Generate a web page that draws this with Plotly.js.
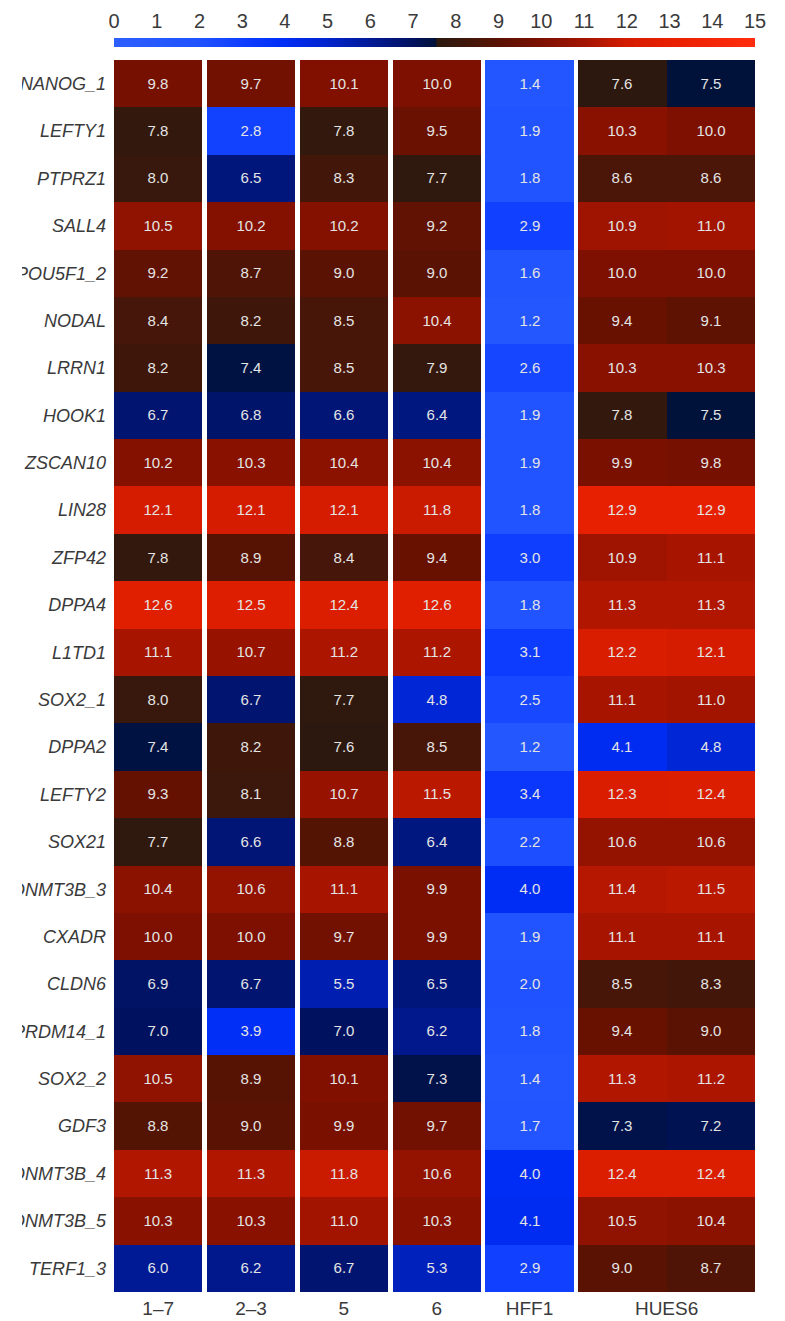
<!DOCTYPE html>
<html>
<head>
<meta charset="utf-8">
<script src="https://cdn.plot.ly/plotly-3.0.1.min.js"></script>
<style>
  html, body { margin: 0; padding: 0; background: #ffffff; }
  #wrap { position: absolute; left: 0; top: 0; width: 785px; height: 1321px; overflow: hidden; background: #fff; }
  #chart { position: absolute; left: 22px; top: 0; width: 763px; height: 1321px; overflow: hidden; }
</style>
</head>
<body>
<div id="wrap"><div id="chart"></div></div>
<script>
// Gene probes, top to bottom
const genes = ["NANOG_1", "LEFTY1", "PTPRZ1", "SALL4", "POU5F1_2", "NODAL", "LRRN1", "HOOK1",
  "ZSCAN10", "LIN28", "ZFP42", "DPPA4", "L1TD1", "SOX2_1", "DPPA2", "LEFTY2", "SOX21",
  "DNMT3B_3", "CXADR", "CLDN6", "PRDM14_1", "SOX2_2", "GDF3", "DNMT3B_4", "DNMT3B_5", "TERF1_3"];

// Sample groups and their tick labels
const groupLabels = ["1\u20137", "2\u20133", "5", "6", "HFF1", "HUES6"];

// Log2 expression per sample column
const s1_7  = [9.8, 7.8, 8.0, 10.5, 9.2, 8.4, 8.2, 6.7, 10.2, 12.1, 7.8, 12.6, 11.1, 8.0, 7.4, 9.3, 7.7, 10.4, 10.0, 6.9, 7.0, 10.5, 8.8, 11.3, 10.3, 6.0];
const s2_3  = [9.7, 2.8, 6.5, 10.2, 8.7, 8.2, 7.4, 6.8, 10.3, 12.1, 8.9, 12.5, 10.7, 6.7, 8.2, 8.1, 6.6, 10.6, 10.0, 6.7, 3.9, 8.9, 9.0, 11.3, 10.3, 6.2];
const s5    = [10.1, 7.8, 8.3, 10.2, 9.0, 8.5, 8.5, 6.6, 10.4, 12.1, 8.4, 12.4, 11.2, 7.7, 7.6, 10.7, 8.8, 11.1, 9.7, 5.5, 7.0, 10.1, 9.9, 11.8, 11.0, 6.7];
const s6    = [10.0, 9.5, 7.7, 9.2, 9.0, 10.4, 7.9, 6.4, 10.4, 11.8, 9.4, 12.6, 11.2, 4.8, 8.5, 11.5, 6.4, 9.9, 9.9, 6.5, 6.2, 7.3, 9.7, 10.6, 10.3, 5.3];
const hff1  = [1.4, 1.9, 1.8, 2.9, 1.6, 1.2, 2.6, 1.9, 1.9, 1.8, 3.0, 1.8, 3.1, 2.5, 1.2, 3.4, 2.2, 4.0, 1.9, 2.0, 1.8, 1.4, 1.7, 4.0, 4.1, 2.9];
const hues6a = [7.6, 10.3, 8.6, 10.9, 10.0, 9.4, 10.3, 7.8, 9.9, 12.9, 10.9, 11.3, 12.2, 11.1, 4.1, 12.3, 10.6, 11.4, 11.1, 8.5, 9.4, 11.3, 7.3, 12.4, 10.5, 9.0];
const hues6b = [7.5, 10.0, 8.6, 11.0, 10.0, 9.1, 10.3, 7.5, 9.8, 12.9, 11.1, 11.3, 12.1, 11.0, 4.8, 12.4, 10.6, 11.5, 11.1, 8.3, 9.0, 11.2, 7.2, 12.4, 10.4, 8.7];

// Columns grouped by sample; groups are separated by a thin white gap
const groups = [[s1_7], [s2_3], [s5], [s6], [hff1], [hues6a, hues6b]];

const zMin = 0, zMax = 15;
const tickValuesBar = [0, 1, 2, 3, 4, 5, 6, 7, 8, 9, 10, 11, 12, 13, 14, 15];

// Blue below ~7.5, dark brown to red above
const colorscale = [
  [0.000, "rgb(45,95,255)"],
  [0.133, "rgb(32,82,255)"],
  [0.200, "rgb(16,62,255)"],
  [0.267, "rgb(0,45,245)"],
  [0.333, "rgb(0,36,205)"],
  [0.400, "rgb(0,26,150)"],
  [0.467, "rgb(0,18,95)"],
  [0.503, "rgb(0,18,55)"],
  [0.5035, "rgb(42,24,15)"],
  [0.533, "rgb(56,24,12)"],
  [0.567, "rgb(72,22,8)"],
  [0.600, "rgb(90,18,2)"],
  [0.667, "rgb(125,16,0)"],
  [0.733, "rgb(162,20,0)"],
  [0.800, "rgb(212,28,0)"],
  [0.867, "rgb(232,32,0)"],
  [1.000, "rgb(255,45,15)"]
];

// Build bin edges, including narrow empty columns between groups
const colW = 1, gapW = 0.05;
const edges = [0];
const columns = [];
const tickPos = [];
groups.forEach((g, gi) => {
  if (gi > 0) {
    edges.push(edges[edges.length - 1] + gapW);
    columns.push(null);
  }
  const start = edges[edges.length - 1];
  g.forEach(col => {
    edges.push(edges[edges.length - 1] + colW);
    columns.push(col);
  });
  tickPos.push((start + edges[edges.length - 1]) / 2);
});

const z = genes.map((_, r) => columns.map(c => (c ? c[r] : null)));
const txt = genes.map((_, r) => columns.map(c => (c ? c[r].toFixed(1) : "")));

const heat = {
  type: "heatmap",
  x: edges,
  y: genes,
  z: z,
  text: txt,
  texttemplate: "%{text}",
  textfont: { family: "Liberation Sans, Arial, sans-serif", size: 15, color: "#e4e4e4" },
  colorscale: colorscale,
  zmin: zMin,
  zmax: zMax,
  showscale: false,
  hoverongaps: false,
  xaxis: "x",
  yaxis: "y"
};

// Gradient strip for the colour key along the top
const rampStep = 0.025;
const rampX = [];
for (let v = zMin; v <= zMax + 1e-9; v += rampStep) rampX.push(+v.toFixed(3));
const ramp = {
  type: "heatmap",
  x: rampX,
  y: [0],
  z: [rampX],
  colorscale: colorscale,
  zmin: zMin,
  zmax: zMax,
  showscale: false,
  hoverinfo: "skip",
  xaxis: "x2",
  yaxis: "y2"
};

const fontFam = "Liberation Sans, Arial, Helvetica, sans-serif";

const layout = {
  width: 763,
  height: 1321,
  margin: { l: 92, r: 30, t: 38, b: 29, pad: 0 },
  paper_bgcolor: "#ffffff",
  plot_bgcolor: "#ffffff",
  showlegend: false,
  font: { family: fontFam, color: "#333333" },
  xaxis: {
    domain: [0, 1],
    range: [edges[0], edges[edges.length - 1]],
    tickmode: "array",
    tickvals: tickPos,
    ticktext: groupLabels,
    ticks: "",
    showgrid: false,
    zeroline: false,
    showline: false,
    automargin: false,
    ticklabelstandoff: 3,
    tickfont: { family: fontFam, size: 19, color: "#3a3a3a" },
    fixedrange: true
  },
  yaxis: {
    domain: [0, 0.98246],
    autorange: "reversed",
    type: "category",
    ticks: "",
    showgrid: false,
    zeroline: false,
    showline: false,
    automargin: false,
    ticklabelstandoff: 7,
    tickfont: { family: fontFam, size: 18, color: "#3a3a3a", style: "italic" },
    fixedrange: true
  },
  xaxis2: {
    domain: [0, 1],
    anchor: "y2",
    side: "top",
    range: [zMin, zMax],
    tickmode: "array",
    tickvals: tickValuesBar,
    ticks: "",
    showgrid: false,
    zeroline: false,
    showline: false,
    automargin: false,
    ticklabelstandoff: 5,
    tickfont: { family: fontFam, size: 20, color: "#3a3a3a" },
    fixedrange: true
  },
  yaxis2: {
    domain: [0.99282, 1],
    anchor: "x2",
    range: [-0.5, 0.5],
    showticklabels: false,
    ticks: "",
    showgrid: false,
    zeroline: false,
    showline: false,
    fixedrange: true
  }
};

Plotly.newPlot("chart", [heat, ramp], layout, { displayModeBar: false, staticPlot: true });
</script>
</body>
</html>
